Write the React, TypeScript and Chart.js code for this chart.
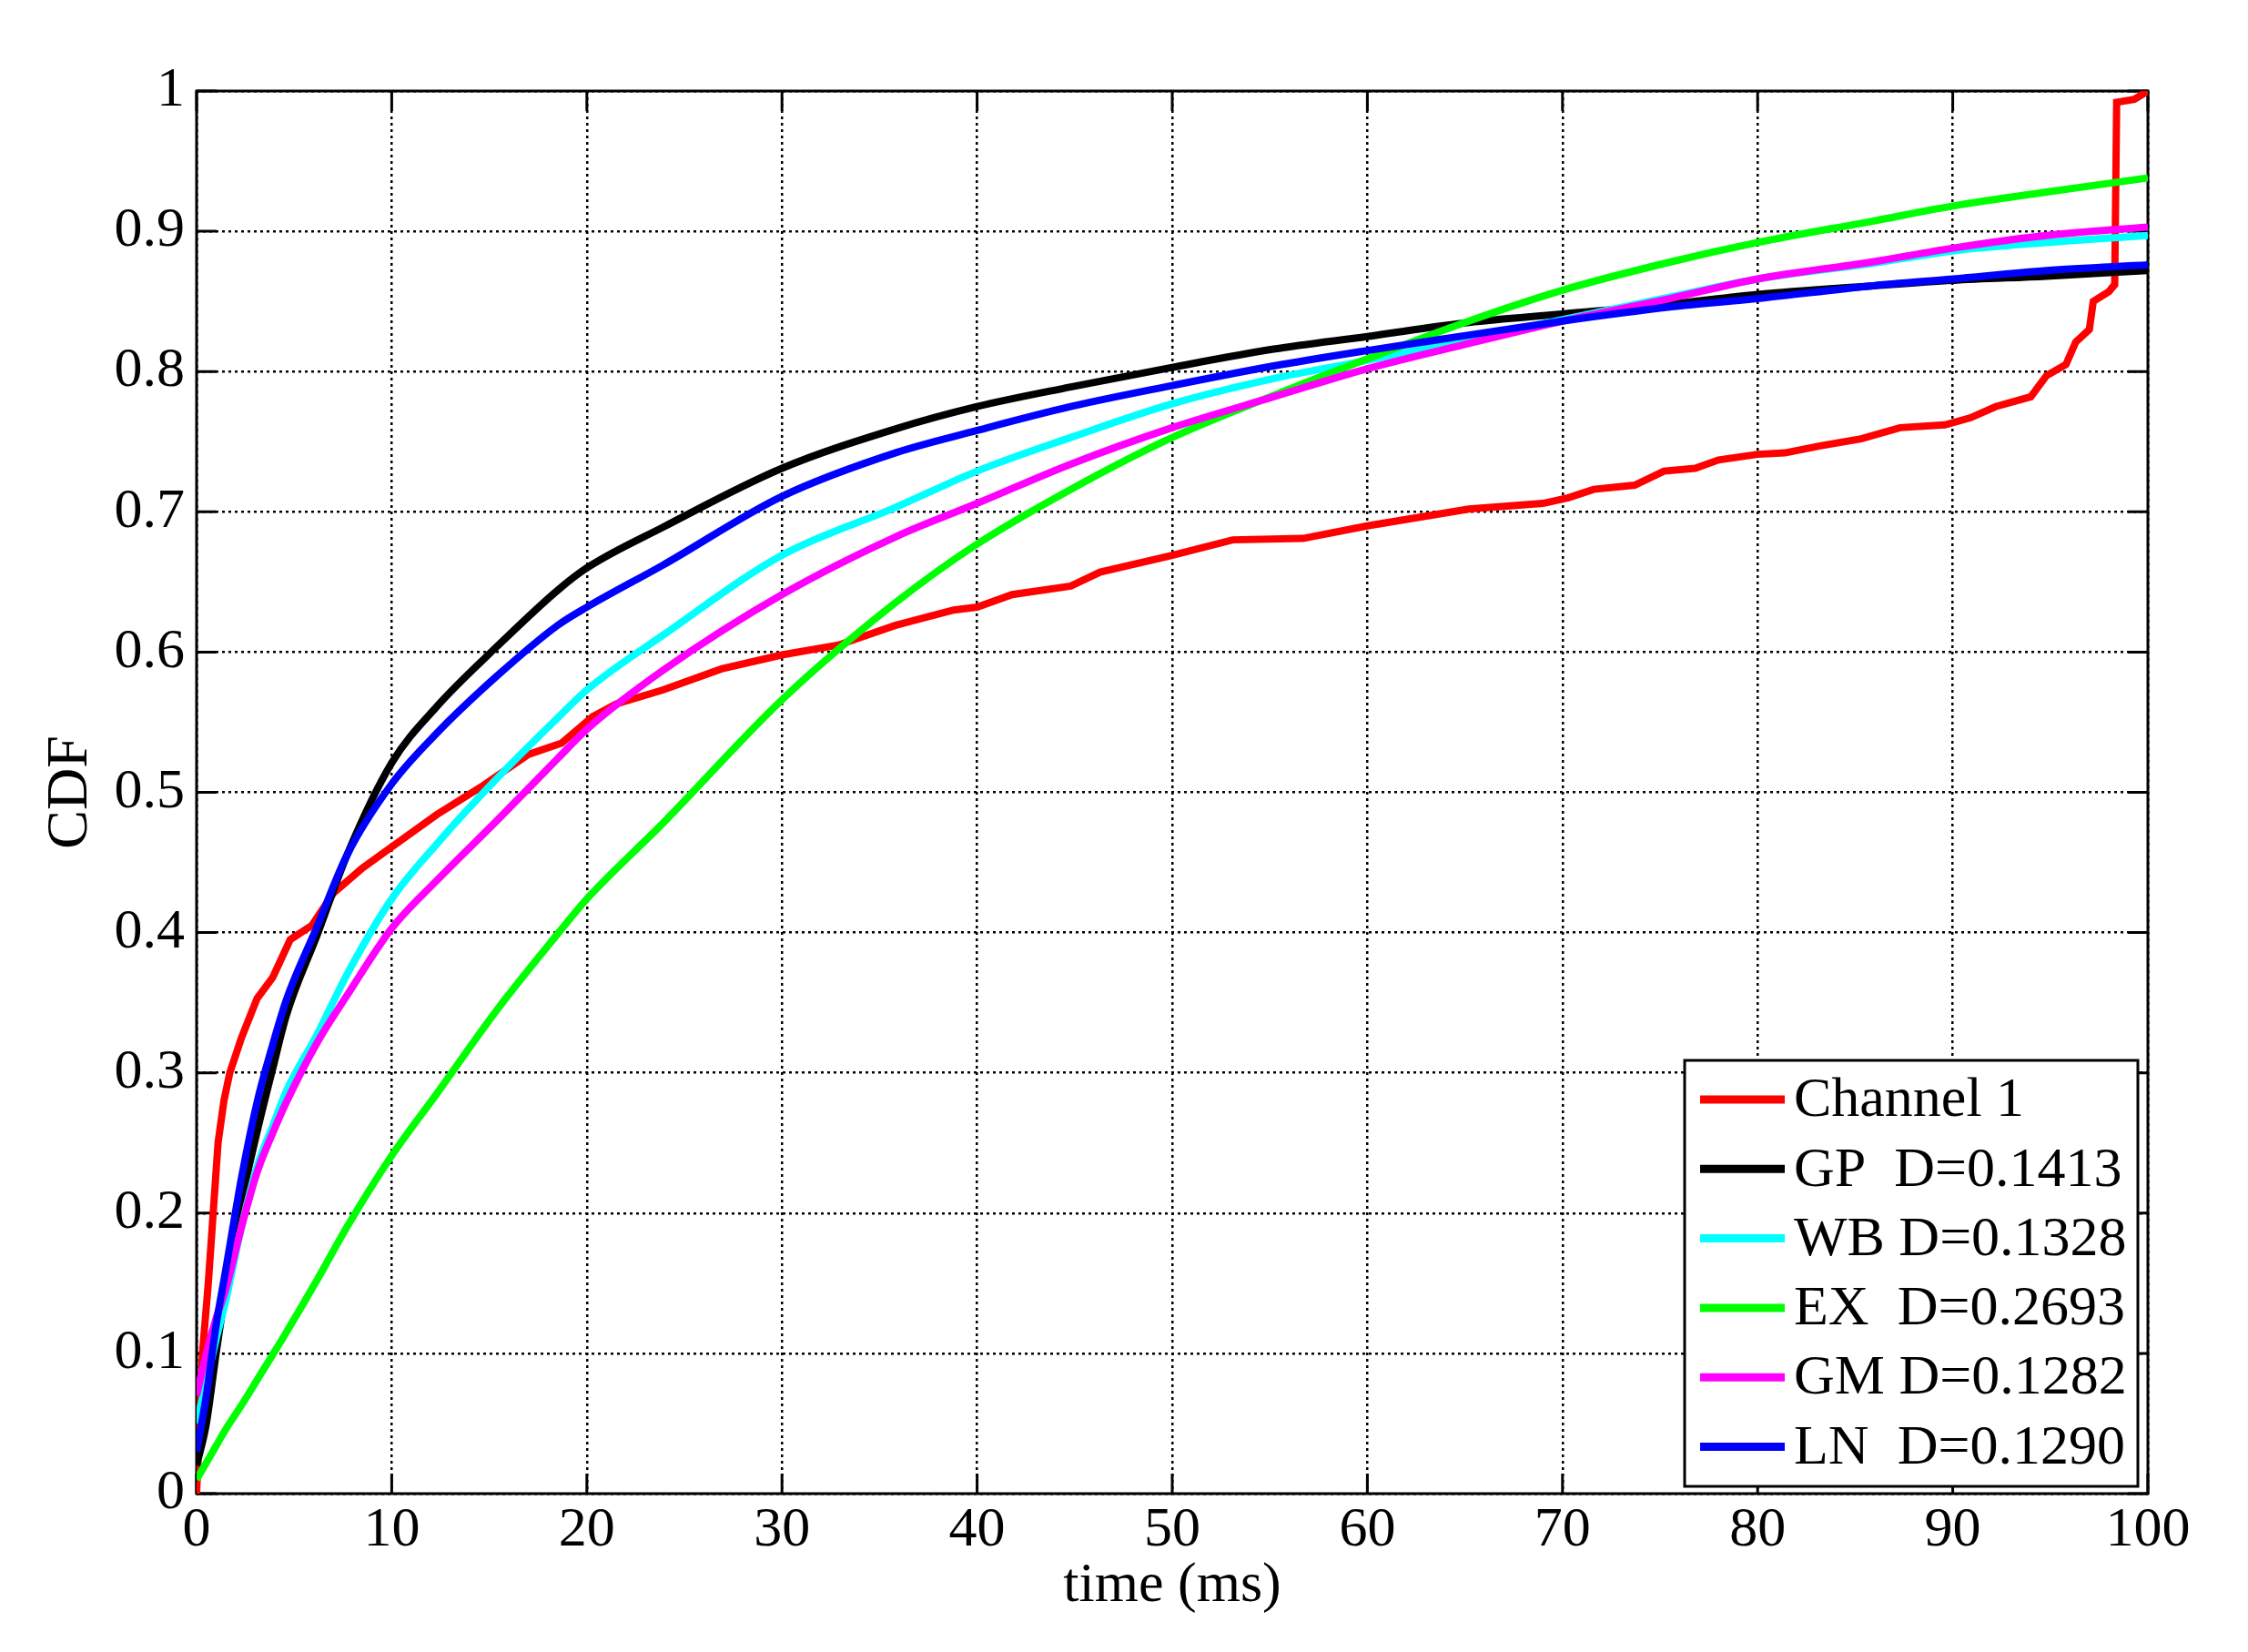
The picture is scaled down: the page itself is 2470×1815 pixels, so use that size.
import { useEffect, useRef } from 'react';
import { Chart, registerables } from 'chart.js';

Chart.register(...registerables);

// shared time axis for the fitted distributions (ms)
const fitTime = [0, 0.5, 1, 1.5, 2.3, 3.1, 3.9, 4.6, 6.2, 7.7, 10, 12.3, 15.4, 18.5, 20, 23.9, 30, 35.8, 40, 44.8, 50, 55.2, 60, 65.2, 70, 75.5, 80, 85.8, 90, 94.8, 100];

const gpCdf = [0.02, 0.05, 0.1, 0.146, 0.208, 0.258, 0.303, 0.341, 0.399, 0.455, 0.521, 0.561, 0.604, 0.644, 0.66, 0.689, 0.731, 0.759, 0.775, 0.789, 0.803, 0.816, 0.825, 0.835, 0.841, 0.848, 0.855, 0.861, 0.865, 0.868, 0.872];
const wbCdf = [0.05, 0.08, 0.11, 0.138, 0.19, 0.233, 0.262, 0.287, 0.328, 0.37, 0.424, 0.463, 0.51, 0.553, 0.573, 0.612, 0.669, 0.703, 0.729, 0.753, 0.777, 0.795, 0.808, 0.823, 0.837, 0.853, 0.866, 0.877, 0.886, 0.892, 0.897];
const exCdf = [0.01, 0.022, 0.034, 0.046, 0.063, 0.081, 0.099, 0.115, 0.153, 0.19, 0.241, 0.285, 0.345, 0.399, 0.424, 0.478, 0.566, 0.635, 0.677, 0.716, 0.753, 0.783, 0.809, 0.836, 0.858, 0.878, 0.892, 0.907, 0.918, 0.928, 0.938];
const gmCdf = [0.07, 0.1, 0.125, 0.146, 0.19, 0.229, 0.257, 0.279, 0.322, 0.355, 0.403, 0.437, 0.48, 0.524, 0.545, 0.587, 0.641, 0.682, 0.706, 0.734, 0.76, 0.782, 0.802, 0.82, 0.836, 0.852, 0.866, 0.878, 0.888, 0.897, 0.903];
const lnCdf = [0.03, 0.07, 0.12, 0.16, 0.225, 0.279, 0.32, 0.352, 0.405, 0.455, 0.506, 0.542, 0.583, 0.619, 0.632, 0.662, 0.711, 0.742, 0.758, 0.775, 0.79, 0.804, 0.815, 0.826, 0.836, 0.846, 0.852, 0.861, 0.866, 0.872, 0.876];

// measured channel (empirical CDF)
const channelTime = [0, 0.15, 0.3, 0.6, 0.9, 1.1, 1.4, 1.7, 2.3, 3.1, 3.9, 4.8, 5.9, 7, 8.5, 10, 12.3, 14.7, 17, 18.7, 20.3, 21.5, 23.9, 26.9, 30, 32.9, 35.8, 38.8, 40, 41.8, 44.8, 46.3, 50, 53.1, 56.7, 60, 62.6, 65.2, 69, 70.3, 71.6, 73.7, 75.2, 76.8, 78, 80, 81.4, 83.2, 85.3, 87.3, 89.6, 90.9, 92.2, 94, 94.8, 95.8, 96.3, 97, 97.2, 98, 98.3, 98.4, 99.3, 100];
const channelCdf = [0, 0.05, 0.1, 0.15, 0.21, 0.25, 0.28, 0.3, 0.325, 0.353, 0.368, 0.395, 0.405, 0.428, 0.446, 0.461, 0.484, 0.505, 0.527, 0.535, 0.554, 0.563, 0.573, 0.588, 0.598, 0.605, 0.619, 0.63, 0.632, 0.641, 0.647, 0.657, 0.669, 0.68, 0.681, 0.69, 0.696, 0.702, 0.706, 0.71, 0.716, 0.719, 0.729, 0.731, 0.737, 0.741, 0.742, 0.747, 0.752, 0.76, 0.762, 0.767, 0.775, 0.782, 0.797, 0.805, 0.821, 0.83, 0.85, 0.857, 0.862, 0.992, 0.994, 1.0];

const xTickLabels = ['0', '10', '20', '30', '40', '50', '60', '70', '80', '90', '100'];
const yTickLabels = ['0', '0.1', '0.2', '0.3', '0.4', '0.5', '0.6', '0.7', '0.8', '0.9', '1'];

const seriesLabels = ['Channel 1', 'GP  D=0.1413', 'WB D=0.1328', 'EX  D=0.2693', 'GM D=0.1282', 'LN  D=0.1290'];
const seriesColors = ['#ff0000', '#000000', '#00ffff', '#00ff00', '#ff00ff', '#0000ff'];

const FONT = '"Liberation Serif", "Times New Roman", Times, serif';

const toPoints = (xs: number[], ys: number[]) => xs.map((x, i) => ({ x, y: ys[i] }));

// box round the axes plus MATLAB-style inward tick marks
const matlabBox = {
    id: 'matlabBox',
    beforeDatasetsDraw(chart: any) {
        const { ctx, chartArea: a, scales } = chart;
        const len = 22;
        ctx.save();
        ctx.strokeStyle = '#000';
        ctx.lineWidth = 3;
        ctx.setLineDash([]);
        ctx.beginPath();
        scales.x.ticks.forEach((t: any) => {
            const px = scales.x.getPixelForValue(t.value);
            ctx.moveTo(px, a.bottom);
            ctx.lineTo(px, a.bottom - len);
            ctx.moveTo(px, a.top);
            ctx.lineTo(px, a.top + len);
        });
        scales.y.ticks.forEach((t: any) => {
            const py = scales.y.getPixelForValue(t.value);
            ctx.moveTo(a.left, py);
            ctx.lineTo(a.left + len, py);
            ctx.moveTo(a.right, py);
            ctx.lineTo(a.right - len, py);
        });
        ctx.stroke();
        ctx.strokeRect(a.left, a.top, a.right - a.left, a.bottom - a.top);
        ctx.restore();
    },
};

// legend box in the lower right corner of the axes
const boxLegend = {
    id: 'boxLegend',
    afterDraw(chart: any) {
        const { ctx, chartArea: a } = chart;
        const sets = chart.data.datasets;
        const w = 498;
        const h = 468;
        const right = a.right - 11;
        const bottom = a.bottom - 8;
        const left = right - w;
        const top = bottom - h;
        const rowH = 76.3;
        ctx.save();
        ctx.fillStyle = '#fff';
        ctx.fillRect(left, top, w, h);
        ctx.strokeStyle = '#000';
        ctx.lineWidth = 3;
        ctx.strokeRect(left, top, w, h);
        ctx.font = `62px ${FONT}`;
        ctx.textBaseline = 'middle';
        ctx.textAlign = 'left';
        sets.forEach((ds: any, i: number) => {
            const cy = top + 43 + i * rowH;
            ctx.strokeStyle = ds.borderColor;
            ctx.lineWidth = 9;
            ctx.beginPath();
            ctx.moveTo(left + 17, cy);
            ctx.lineTo(left + 110, cy);
            ctx.stroke();
            ctx.fillStyle = '#000';
            ctx.fillText(ds.label, left + 120, cy + 2);
        });
        ctx.restore();
    },
};

export default function App() {
    const canvasRef = useRef<HTMLCanvasElement | null>(null);

    useEffect(() => {
        if (!canvasRef.current) {
            return;
        }
        document.body.style.margin = '0';

        const series = [
            toPoints(channelTime, channelCdf),
            toPoints(fitTime, gpCdf),
            toPoints(fitTime, wbCdf),
            toPoints(fitTime, exCdf),
            toPoints(fitTime, gmCdf),
            toPoints(fitTime, lnCdf),
        ];

        const chart = new Chart(canvasRef.current, {
            type: 'line',
            data: {
                datasets: series.map((data, i) => ({
                    label: seriesLabels[i],
                    data,
                    borderColor: seriesColors[i],
                    backgroundColor: seriesColors[i],
                    borderWidth: 8,
                    pointRadius: 0,
                    // the fitted curves are smooth, the measured one is stepped
                    cubicInterpolationMode: i === 0 ? 'default' : 'monotone',
                    tension: i === 0 ? 0 : 0.4,
                    fill: false,
                    // later series sit on top, as in the original plot
                    order: series.length - i,
                })),
            },
            plugins: [matlabBox, boxLegend],
            options: {
                responsive: false,
                animation: false,
                devicePixelRatio: 1,
                layout: { padding: { top: 100, right: 110, left: 0, bottom: 0 } },
                plugins: {
                    legend: { display: false },
                    tooltip: { enabled: false },
                },
                scales: {
                    x: {
                        type: 'linear',
                        min: 0,
                        max: 100,
                        afterFit: (scale: any) => { scale.height = 174; },
                        afterBuildTicks: (scale: any) => {
                            scale.ticks = xTickLabels.map((l) => ({ value: Number(l) }));
                        },
                        ticks: {
                            callback: (_v: any, i: number) => xTickLabels[i],
                            font: { family: FONT, size: 62, lineHeight: 1 },
                            color: '#000',
                            padding: 10,
                            maxRotation: 0,
                        },
                        grid: { color: '#000', lineWidth: 2.5, drawTicks: false },
                        border: { display: false, dash: [3, 4] },
                        title: {
                            display: true,
                            text: 'time (ms)',
                            color: '#000',
                            font: { family: FONT, size: 62, lineHeight: 1 },
                            padding: { top: 0, bottom: 41 },
                        },
                    },
                    y: {
                        type: 'linear',
                        min: 0,
                        max: 1,
                        afterFit: (scale: any) => { scale.width = 216; },
                        afterBuildTicks: (scale: any) => {
                            scale.ticks = yTickLabels.map((l) => ({ value: Number(l) }));
                        },
                        ticks: {
                            callback: (_v: any, i: number) => yTickLabels[i],
                            font: { family: FONT, size: 62, lineHeight: 1 },
                            color: '#000',
                            padding: 13,
                        },
                        grid: { color: '#000', lineWidth: 2.5, drawTicks: false },
                        border: { display: false, dash: [3, 4] },
                        title: {
                            display: true,
                            text: 'CDF',
                            color: '#000',
                            font: { family: FONT, size: 64, lineHeight: 1 },
                            padding: { top: 46, bottom: 0 },
                        },
                    },
                },
            },
        });
        return () => chart.destroy();
    }, []);

    return (
        <div style={{ width: '2470px', height: '1815px', background: '#fff' }}>
            <canvas ref={canvasRef} width={2470} height={1815} style={{ display: 'block' }} />
        </div>
    );
}
